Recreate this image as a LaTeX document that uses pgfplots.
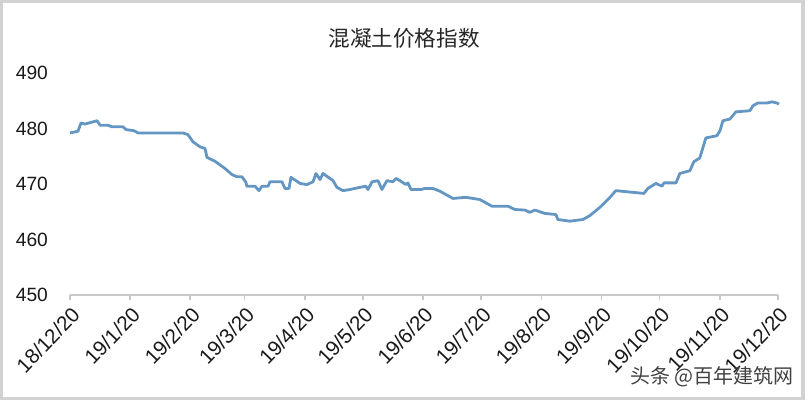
\documentclass[border=0pt]{standalone}
\usepackage{pgfplots}
\pgfplotsset{compat=1.18}
\usepackage{fontspec}
\setmainfont{Liberation Sans}
\newfontfamily\cjk{Noto Sans CJK SC}
\definecolor{linecol}{RGB}{100,150,195}
\definecolor{axgray}{RGB}{200,200,200}
\definecolor{framegray}{RGB}{210,210,210}

% day number since 2018-12-20, index value
\pgfplotstableread{
day value
0 479.2
4.1 479.5
5.7 481.0
7.7 480.8
12.9 481.3
13.9 481.4
15.5 480.6
19.6 480.6
21.6 480.3
27.3 480.3
28.9 479.8
33.0 479.6
35.1 479.2
58.2 479.2
60.8 478.9
63.4 477.6
67.0 476.7
69.6 476.4
70.6 474.8
74.7 474.1
79.9 472.8
83.5 471.7
86.1 471.3
88.7 471.3
90.7 470.3
91.2 469.6
95.4 469.6
97.4 468.8
99.0 469.6
102.1 469.6
103.1 470.4
109.3 470.4
110.8 469.2
112.9 469.2
113.9 471.2
118.6 470.1
122.2 469.9
125.3 470.4
126.8 471.9
128.9 470.8
130.4 471.9
135.6 470.6
137.6 469.4
140.7 468.8
144.3 469.0
149.5 469.4
152.6 469.6
153.6 469.0
155.7 470.4
158.8 470.6
160.8 469.0
163.4 470.6
166.5 470.4
168.0 471.0
170.1 470.6
173.2 469.9
174.2 470.2
175.8 469.0
180.9 469.0
183.0 469.2
187.1 469.2
190.7 468.7
197.4 467.4
204.1 467.6
211.3 467.2
217.5 466.0
225.8 466.0
229.4 465.4
234.5 465.3
237.1 464.9
239.7 465.3
244.8 464.7
250.5 464.5
251.5 463.6
257.7 463.3
264.4 463.6
268.0 464.3
273.2 465.8
278.4 467.6
281.4 468.8
295.9 468.3
297.9 469.2
302.1 470.1
305.2 469.6
306.2 470.2
312.4 470.2
314.4 471.9
319.6 472.4
321.6 474.0
324.7 474.7
327.8 478.3
333.5 478.7
335.1 479.6
336.6 481.4
340.2 481.7
343.3 483.0
350.5 483.2
352.1 484.1
354.6 484.6
359.3 484.6
361.9 484.8
364.4 484.6
365.5 484.4
}\cementdata

\begin{document}
\begin{tikzpicture}
\path[use as bounding box] (0,0) rectangle (404.5pt,200pt);
\draw[framegray, line width=1.6pt] (0.8pt,0.8pt) rectangle (401.5pt,199.2pt);

\begin{axis}[
    at={(35pt,52.5pt)}, anchor=south west,
    scale only axis,
    width=354pt, height=111pt,
    xmin=0, xmax=365,
    ymin=450, ymax=490,
    axis lines=left,
    x axis line style={draw=axgray, line width=0.8pt, -},
    y axis line style={draw=none},
    ytick={450,460,470,480,490},
    ytick style={draw=none},
    xtick={0,31,62,90,121,151,182,212,243,274,304,335,365},
    xticklabels={18/12/20,19/1/20,19/2/20,19/3/20,19/4/20,19/5/20,19/6/20,19/7/20,19/8/20,19/9/20,19/10/20,19/11/20,19/12/20},
    xtick style={draw=axgray, line width=0.8pt},
    tick align=outside,
    major tick length=2.5pt,
    xticklabel style={rotate=46, anchor=east, font=\fontsize{10.3}{12}\selectfont, xshift=1.5pt, yshift=-6pt},
    yticklabel style={font=\fontsize{9.6}{12}\selectfont, xshift=-5pt},
    /pgf/number format/assume math mode=true,
    tick label style={text=black!90},
    clip=false,
]
\addplot[linecol, line width=1.4pt, line join=round, no markers] table[x=day, y=value] {\cementdata};
\end{axis}

\node[font=\cjk\fontsize{10.8}{12}\selectfont, text=black!85] at (202pt,181pt) {混凝土价格指数};
\node[font=\cjk\fontsize{10}{11}\selectfont, text=black!75] at (356pt,11.5pt) {头条 @百年建筑网};
\end{tikzpicture}
\end{document}
